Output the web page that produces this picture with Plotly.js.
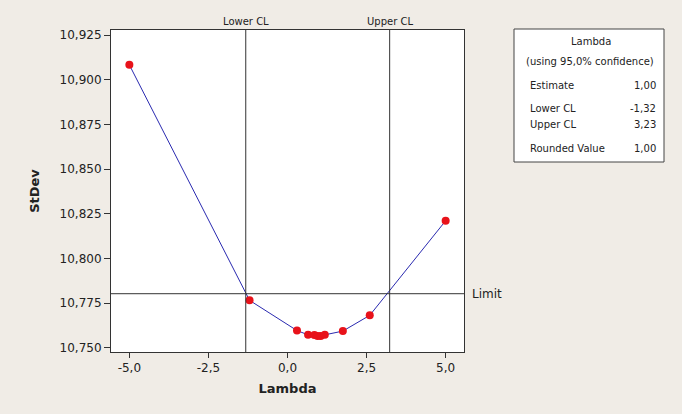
<!DOCTYPE html>
<html>
<head>
<meta charset="utf-8">
<script src="https://cdn.plot.ly/plotly-3.0.1.min.js"></script>
<style>
  html, body { margin: 0; padding: 0; background: #F0ECE6; }
  #chart { width: 682px; height: 414px; }
</style>
</head>
<body>
<div id="chart"></div>
<script>
// Box-Cox profile: standard deviation of the transformed data for each lambda
const lambdaValues = [-5, -1.2, 0.3, 0.65, 0.85, 0.95, 1.05, 1.18, 1.75, 2.6, 5];
const stdevValues  = [10.9083, 10.7766, 10.7597, 10.7573, 10.7572, 10.7566, 10.7566, 10.7573, 10.7594, 10.7682, 10.8211];

// Confidence interval and limit
const lowerCL = -1.32;
const upperCL = 3.23;
const estimate = 1.00;
const roundedValue = 1.00;
const limitStdev = 10.7803;

// Axis ticks
const xTickVals = [-5, -2.5, 0, 2.5, 5];
const xTickText = ['-5,0', '-2,5', '0,0', '2,5', '5,0'];
const yTickVals = [10.750, 10.775, 10.800, 10.825, 10.850, 10.875, 10.900, 10.925];
const yTickText = ['10,750', '10,775', '10,800', '10,825', '10,850', '10,875', '10,900', '10,925'];

// Summary box rows
const boxTitle = 'Lambda';
const boxSubtitle = '(using 95,0% confidence)';
const boxLabels = ['Estimate', 'Lower CL', 'Upper CL', 'Rounded Value'];
const boxValues = [estimate, lowerCL, upperCL, roundedValue];

const fmt = (v) => v.toFixed(2).replace('.', ',');

// Layout geometry (pixels)
const W = 682, H = 414;
const M = { l: 111, r: 218, t: 30, b: 62 };
const plotW = W - M.l - M.r, plotH = H - M.t - M.b;
const px = (x) => (x - M.l) / plotW;
const py = (y) => (H - M.b - y) / plotH;

const FONT = 'DejaVu Sans, Verdana, sans-serif';
const INK = '#222222';

const trace = {
  x: lambdaValues,
  y: stdevValues,
  type: 'scatter',
  mode: 'lines+markers',
  line: { color: '#2a2ab0', width: 1 },
  marker: { color: '#e8121a', size: 8 },
  hoverinfo: 'x+y'
};

const shapes = [
  { type: 'line', xref: 'x', yref: 'paper', x0: lowerCL, x1: lowerCL, y0: 0, y1: 1,
    line: { color: '#333333', width: 1 } },
  { type: 'line', xref: 'x', yref: 'paper', x0: upperCL, x1: upperCL, y0: 0, y1: 1,
    line: { color: '#333333', width: 1 } },
  { type: 'line', xref: 'paper', yref: 'y', x0: 0, x1: 1, y0: limitStdev, y1: limitStdev,
    line: { color: '#333333', width: 1 } },
  // summary box
  { type: 'rect', xref: 'paper', yref: 'paper', x0: px(514), x1: px(664), y0: py(29), y1: py(162),
    fillcolor: '#ffffff', line: { color: '#444444', width: 1 } }
];

const note = (x, y, text, xanchor, size) => ({
  xref: 'paper', yref: 'paper', x: px(x), y: py(y), xanchor: xanchor, yanchor: 'middle',
  text: text, showarrow: false, font: { family: FONT, size: size || 10, color: INK }
});

const annotations = [
  { xref: 'x', yref: 'paper', x: lowerCL, y: 1, xanchor: 'center', yanchor: 'bottom', yshift: 1,
    text: 'Lower CL', showarrow: false, font: { family: FONT, size: 10, color: INK } },
  { xref: 'x', yref: 'paper', x: upperCL, y: 1, xanchor: 'center', yanchor: 'bottom', yshift: 1,
    text: 'Upper CL', showarrow: false, font: { family: FONT, size: 10, color: INK } },
  { xref: 'paper', yref: 'y', x: px(470), y: limitStdev, xanchor: 'left', yanchor: 'middle',
    text: 'Limit', showarrow: false, font: { family: FONT, size: 12, color: INK } },
  note(591, 42, boxTitle, 'center'),
  note(590, 61, boxSubtitle, 'center')
];

const rowY = [85, 108, 124, 148];
boxLabels.forEach((lab, i) => {
  annotations.push(note(528, rowY[i], lab, 'left'));
  annotations.push(note(658, rowY[i], fmt(boxValues[i]), 'right'));
});

const layout = {
  width: W, height: H,
  margin: M,
  paper_bgcolor: '#F0ECE6',
  plot_bgcolor: '#ffffff',
  showlegend: false,
  font: { family: FONT, color: INK },
  xaxis: {
    range: [-5.58, 5.58],
    tickvals: xTickVals, ticktext: xTickText,
    ticks: 'outside', ticklen: 5, tickcolor: '#333333',
    showline: true, mirror: true, linecolor: '#333333', linewidth: 1,
    showgrid: false, zeroline: false,
    tickfont: { family: FONT, size: 12, color: INK },
    title: { text: '<b>Lambda</b>', font: { family: FONT, size: 13, color: INK }, standoff: 9 }
  },
  yaxis: {
    range: [10.7477, 10.9278],
    tickvals: yTickVals, ticktext: yTickText,
    ticks: 'outside', ticklen: 6, tickcolor: '#333333',
    showline: true, mirror: true, linecolor: '#333333', linewidth: 1,
    showgrid: false, zeroline: false,
    tickfont: { family: FONT, size: 12, color: INK },
    title: { text: '<b>StDev</b>', font: { family: FONT, size: 13, color: INK }, standoff: 17 }
  },
  shapes: shapes,
  annotations: annotations
};

Plotly.newPlot('chart', [trace], layout, { staticPlot: true, displayModeBar: false });
</script>
</body>
</html>
